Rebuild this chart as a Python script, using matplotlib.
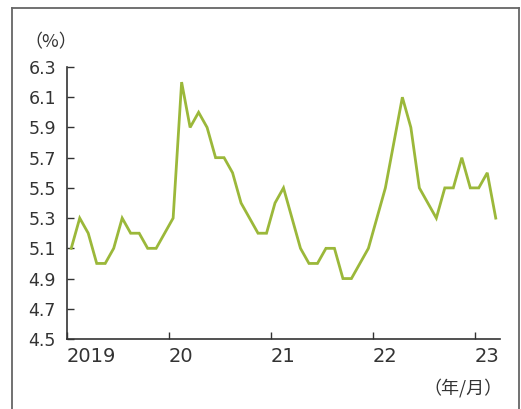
import matplotlib
matplotlib.use('Agg')
import matplotlib.pyplot as plt
import numpy as np
from matplotlib.lines import Line2D

# Monthly rate, Jan 2019 - Mar 2023 (%)
rates = [5.1, 5.3, 5.2, 5.0, 5.0, 5.1, 5.3, 5.2, 5.2, 5.1, 5.1, 5.2,
         5.3, 6.2, 5.9, 6.0, 5.9, 5.7, 5.7, 5.6, 5.4, 5.3, 5.2, 5.2,
         5.4, 5.5, 5.3, 5.1, 5.0, 5.0, 5.1, 5.1, 4.9, 4.9, 5.0, 5.1,
         5.3, 5.5, 5.8, 6.1, 5.9, 5.5, 5.4, 5.3, 5.5, 5.5, 5.7, 5.5,
         5.5, 5.6, 5.3]
year_labels = ['2019', '20', '21', '22', '23']
y_ticks = [4.5, 4.7, 4.9, 5.1, 5.3, 5.5, 5.7, 5.9, 6.1, 6.3]

W, H = 521, 409
fig = plt.figure(figsize=(W / 100, H / 100), dpi=100, facecolor='white')
ax = fig.add_axes([67 / W, 1 - 339 / H, (500 - 67) / W, (339 - 67) / H])

text_color = '#333333'
line_color = '#9bb83a'

months = np.arange(len(rates)) + 0.5
ax.plot(months, rates, color=line_color, linewidth=2.0, solid_joinstyle='miter')

ax.set_xlim(0, 51)
ax.set_ylim(4.5, 6.3)

ax.set_yticks(y_ticks)
ax.set_yticklabels([f'{v:.1f}' for v in y_ticks])
ax.set_xticks(np.arange(len(year_labels)) * 12)
ax.set_xticklabels(year_labels)

ax.tick_params(axis='y', direction='in', length=5, width=1, color=text_color,
               labelsize=12.5, labelcolor=text_color, pad=8)
ax.tick_params(axis='x', direction='in', length=5, width=1, color=text_color,
               labelsize=14, labelcolor=text_color, pad=6)
for lbl in ax.get_xticklabels():
    lbl.set_horizontalalignment('left')

for side in ['top', 'right']:
    ax.spines[side].set_visible(False)
for side in ['left', 'bottom']:
    ax.spines[side].set_color(text_color)
    ax.spines[side].set_linewidth(1.2)

# unit labels
cjk = ['Noto Sans CJK JP', 'DejaVu Sans']
fig.text(51 / W, 1 - 42 / H, '（%）', ha='center', va='center', fontsize=13,
         color=text_color, family=cjk)
fig.text(503 / W, 1 - 388 / H, '（年/月）', ha='right', va='center', fontsize=13,
         color=text_color, family=cjk)

# outer frame (open at the bottom)
frame_kw = dict(color='#666666', linewidth=1.3, transform=fig.transFigure)
left, right, top = 11.5 / W, 518.5 / W, 1 - 7.5 / H
fig.add_artist(Line2D([left, left], [0, top], **frame_kw))
fig.add_artist(Line2D([left, right], [top, top], **frame_kw))
fig.add_artist(Line2D([right, right], [0, top], **frame_kw))

fig.savefig('out.png', dpi=100)
